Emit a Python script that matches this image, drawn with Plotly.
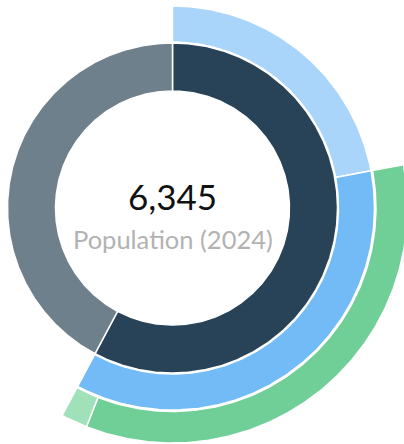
import numpy as np
import plotly.graph_objects as go

# ---- data (hierarchical rings) ----
total_value = 6345
center_label = "Population (2024)"

ring1_labels = ["Group A", "Group B"]
ring1_values = [3666, 2679]
ring1_colors = ["#284357", "#6f808d"]

ring2_labels = ["Group A1", "Group A2"]          # children of Group A
ring2_values = [1399, 2267]
ring2_colors = ["#a9d5fa", "#73bbf6"]

ring3_labels = ["Group A2a", "Group A2b"]        # children of Group A2
ring3_values = [2152, 115]
ring3_colors = ["#6fcf97", "#a0e1b9"]

# ---- layout geometry (figure pixels) ----
W, H = 404, 444
CX, CY = 172.5, 208.0          # centre of the rings (from top-left of the figure)

rings = [
    # values, labels, colors, start offset (value units), inner r, outer r
    (ring1_values, ring1_labels, ring1_colors, 0, 117.0, 165.0),
    (ring2_values, ring2_labels, ring2_colors, 0, 166.0, 202.0),
    (ring3_values, ring3_labels, ring3_colors, ring2_values[0], 203.5, 235.0),
]


def sector_path(a0, a1, r0, r1):
    """Closed outline of an annular sector, angles in degrees clockwise from 12 o'clock."""
    n = max(int(abs(a1 - a0) * 2), 4)
    a = np.radians(np.linspace(a0, a1, n))
    ang = np.concatenate([a, a[::-1], a[:1]])
    rad = np.concatenate([np.full(n, r1), np.full(n, r0), [r1]])
    return CX + rad * np.sin(ang), CY - rad * np.cos(ang)


fig = go.Figure()
for vals, labs, cols, offset, r0, r1 in rings:
    v = np.array(vals, dtype=float)
    widths = v / total_value * 360.0
    starts = offset / total_value * 360.0 + np.cumsum(widths) - widths
    for lab, col, s, w in zip(labs, cols, starts, widths):
        x, y = sector_path(s, s + w, r0, r1)
        fig.add_trace(go.Scatter(
            x=x, y=y, mode="lines", fill="toself", fillcolor=col,
            line=dict(color="white", width=1.5), name=lab,
            hoverinfo="skip",
        ))

fig.update_layout(
    width=W, height=H,
    margin=dict(l=0, r=0, t=0, b=0),
    paper_bgcolor="white", plot_bgcolor="white",
    showlegend=False,
    xaxis=dict(range=[0, W], visible=False, fixedrange=True),
    yaxis=dict(range=[H, 0], visible=False, fixedrange=True),
    annotations=[
        dict(text=f"{total_value:,}", x=CX, y=196,
             xref="x", yref="y", showarrow=False,
             xanchor="center", yanchor="middle",
             font=dict(family="Lato", size=35, color="#111111")),
        dict(text=center_label, x=CX, y=239,
             xref="x", yref="y", showarrow=False,
             xanchor="center", yanchor="middle",
             font=dict(family="Lato", size=25.5, color="#b2b2b2")),
    ],
)

fig.write_html(
    "out.html",
    config={"displayModeBar": False},
    post_script="document.body.style.margin='0';"
                "document.documentElement.style.overflow='hidden';",
)
